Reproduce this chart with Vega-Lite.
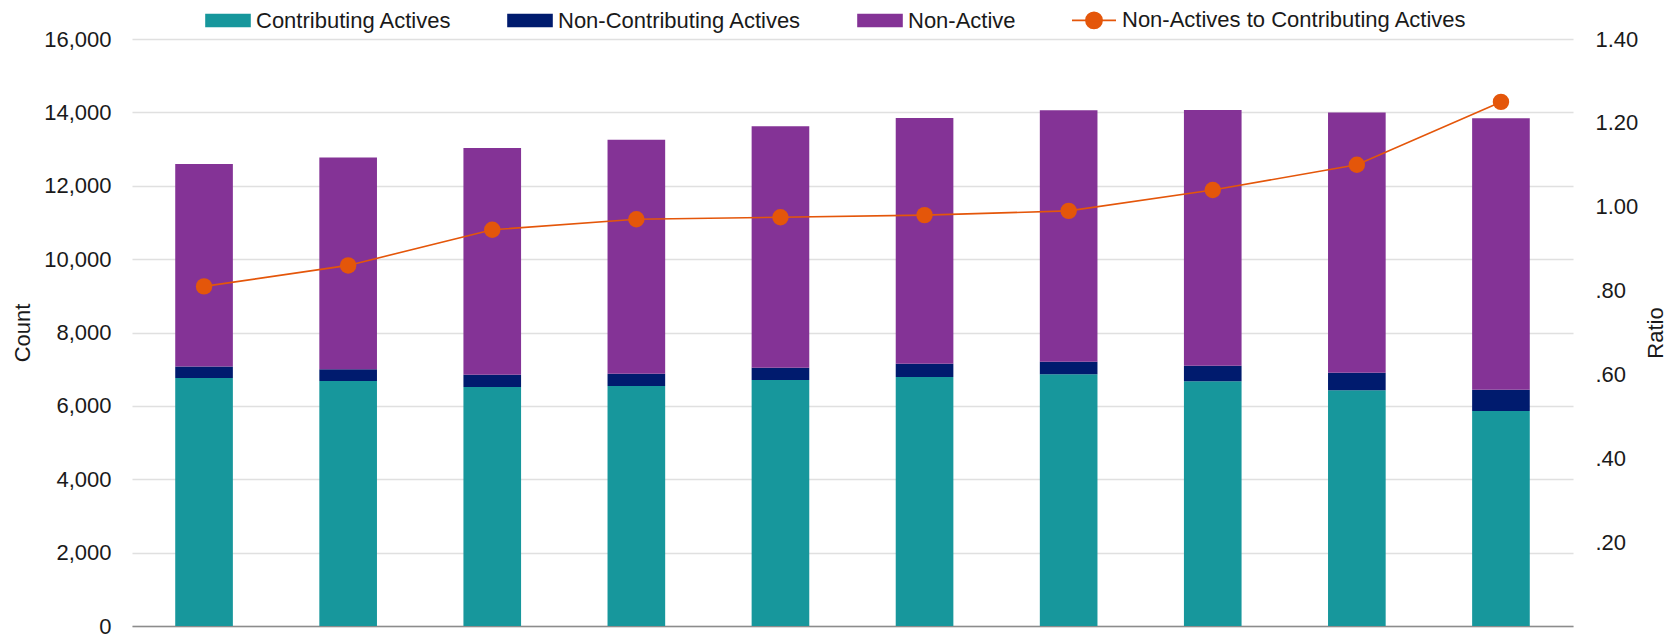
{
  "$schema": "https://vega.github.io/schema/vega-lite/v6.json",
  "autosize": {"type": "none"},
  "width": 1441,
  "height": 587,
  "padding": {"left": 132, "top": 39, "right": 100, "bottom": 9},
  "background": "#ffffff",
  "config": {
    "view": {"stroke": null},
    "font": "Liberation Sans"
  },
  "datasets": {
    "members": [
      {"year": "2015", "series": "Contributing Actives", "count": 6760},
      {"year": "2015", "series": "Non-Contributing Actives", "count": 310},
      {"year": "2015", "series": "Non-Active", "count": 5520},
      {"year": "2016", "series": "Contributing Actives", "count": 6680},
      {"year": "2016", "series": "Non-Contributing Actives", "count": 320},
      {"year": "2016", "series": "Non-Active", "count": 5770},
      {"year": "2017", "series": "Contributing Actives", "count": 6515},
      {"year": "2017", "series": "Non-Contributing Actives", "count": 335},
      {"year": "2017", "series": "Non-Active", "count": 6180},
      {"year": "2018", "series": "Contributing Actives", "count": 6540},
      {"year": "2018", "series": "Non-Contributing Actives", "count": 335},
      {"year": "2018", "series": "Non-Active", "count": 6380},
      {"year": "2019", "series": "Contributing Actives", "count": 6705},
      {"year": "2019", "series": "Non-Contributing Actives", "count": 335},
      {"year": "2019", "series": "Non-Active", "count": 6580},
      {"year": "2020", "series": "Contributing Actives", "count": 6790},
      {"year": "2020", "series": "Non-Contributing Actives", "count": 360},
      {"year": "2020", "series": "Non-Active", "count": 6700},
      {"year": "2021", "series": "Contributing Actives", "count": 6860},
      {"year": "2021", "series": "Non-Contributing Actives", "count": 345},
      {"year": "2021", "series": "Non-Active", "count": 6850},
      {"year": "2022", "series": "Contributing Actives", "count": 6670},
      {"year": "2022", "series": "Non-Contributing Actives", "count": 425},
      {"year": "2022", "series": "Non-Active", "count": 6970},
      {"year": "2023", "series": "Contributing Actives", "count": 6425},
      {"year": "2023", "series": "Non-Contributing Actives", "count": 480},
      {"year": "2023", "series": "Non-Active", "count": 7090},
      {"year": "2024", "series": "Contributing Actives", "count": 5860},
      {"year": "2024", "series": "Non-Contributing Actives", "count": 580},
      {"year": "2024", "series": "Non-Active", "count": 7400}
    ],
    "ratio": [
      {"year": "2015", "series": "Non-Actives to Contributing Actives", "ratio": 0.81},
      {"year": "2016", "series": "Non-Actives to Contributing Actives", "ratio": 0.86},
      {"year": "2017", "series": "Non-Actives to Contributing Actives", "ratio": 0.945},
      {"year": "2018", "series": "Non-Actives to Contributing Actives", "ratio": 0.97},
      {"year": "2019", "series": "Non-Actives to Contributing Actives", "ratio": 0.975},
      {"year": "2020", "series": "Non-Actives to Contributing Actives", "ratio": 0.98},
      {"year": "2021", "series": "Non-Actives to Contributing Actives", "ratio": 0.99},
      {"year": "2022", "series": "Non-Actives to Contributing Actives", "ratio": 1.04},
      {"year": "2023", "series": "Non-Actives to Contributing Actives", "ratio": 1.10},
      {"year": "2024", "series": "Non-Actives to Contributing Actives", "ratio": 1.25}
    ]
  },
  "encoding": {
    "x": {
      "field": "year",
      "type": "ordinal",
      "scale": {"paddingInner": 0.6, "paddingOuter": 0.3},
      "axis": {"title": null, "labels": false, "ticks": false, "domain": true, "domainColor": "#8c8c8c", "domainWidth": 1.5, "grid": false}
    }
  },
  "layer": [
    {
      "data": {"name": "members"},
      "transform": [
        {"calculate": "indexof(['Contributing Actives', 'Non-Contributing Actives', 'Non-Active'], datum.series)", "as": "stackRank"}
      ],
      "mark": {"type": "bar"},
      "encoding": {
        "y": {
          "field": "count",
          "type": "quantitative",
          "stack": "zero",
          "scale": {"domain": [0, 16000], "nice": false},
          "axis": {
            "title": "Count",
            "values": [0, 2000, 4000, 6000, 8000, 10000, 12000, 14000, 16000],
            "format": ",.0f",
            "domain": false,
            "ticks": false,
            "labelPadding": 21,
            "labelFont": "Liberation Sans",
            "labelFontSize": 22,
            "labelColor": "#1a1a1a",
            "titleFont": "Liberation Sans",
            "titleFontSize": 22,
            "titleFontWeight": "normal",
            "titleColor": "#1a1a1a",
            "titlePadding": 9,
            "grid": true,
            "gridColor": "#e0e0e0",
            "gridWidth": 1.5
          }
        },
        "order": {"field": "stackRank", "type": "quantitative"},
        "color": {
          "field": "series",
          "type": "nominal",
          "scale": {
            "domain": ["Contributing Actives", "Non-Contributing Actives", "Non-Active", "Non-Actives to Contributing Actives"],
            "range": ["#17979c", "#001b6e", "#843396", "#e4560a"]
          },
          "legend": {
            "title": null,
            "orient": "none",
            "direction": "horizontal",
            "legendX": 73,
            "legendY": -42,
            "padding": 0,
            "columnPadding": 52,
            "labelOffset": 5,
            "labelLimit": 0,
            "labelFont": "Liberation Sans",
            "labelFontSize": 22,
            "labelColor": "#1a1a1a",
            "symbolSize": 1936,
            "symbolStrokeWidth": 0,
            "symbolOpacity": 1,
            "encode": {
              "symbols": {
                "update": {
                  "shape": [
                    {"test": "datum.value === 'Non-Actives to Contributing Actives'", "value": "M-1,0H1M0.37,0A0.37,0.37,0,1,1,-0.37,0A0.37,0.37,0,1,1,0.37,0Z"},
                    {"value": "M-1,-0.27H1V0.27H-1Z"}
                  ],
                  "fill": {"scale": "color", "field": "value"},
                  "stroke": [
                    {"test": "datum.value === 'Non-Actives to Contributing Actives'", "scale": "color", "field": "value"},
                    {"value": "transparent"}
                  ],
                  "strokeWidth": {"value": 1.6},
                  "opacity": {"value": 1}
                }
              }
            }
          }
        }
      }
    },
    {
      "data": {"name": "ratio"},
      "layer": [
        {
          "mark": {"type": "line", "strokeWidth": 1.6},
          "encoding": {
            "y": {
              "field": "ratio",
              "type": "quantitative",
              "scale": {"domain": [0, 1.4], "nice": false},
              "axis": {
                "title": "Ratio",
                "orient": "right",
                "values": [0, 0.2, 0.4, 0.6, 0.8, 1.0, 1.2, 1.4],
                "labelExpr": "datum.value === 0 ? '' : replace(format(datum.value, '.2f'), /^0/, '')",
                "domain": false,
                "ticks": false,
                "grid": false,
                "labelPadding": 22,
                "labelFont": "Liberation Sans",
                "labelFontSize": 22,
                "labelColor": "#1a1a1a",
                "titleFont": "Liberation Sans",
                "titleFontSize": 22,
                "titleFontWeight": "normal",
                "titleColor": "#1a1a1a",
                "titleAngle": 270,
                "titlePadding": 30
              }
            },
            "color": {"field": "series", "type": "nominal"}
          }
        },
        {
          "mark": {"type": "point", "filled": true, "opacity": 1, "size": 270, "color": "#e4560a"},
          "encoding": {
            "y": {"field": "ratio", "type": "quantitative"}
          }
        }
      ]
    }
  ],
  "resolve": {"scale": {"y": "independent"}}
}
